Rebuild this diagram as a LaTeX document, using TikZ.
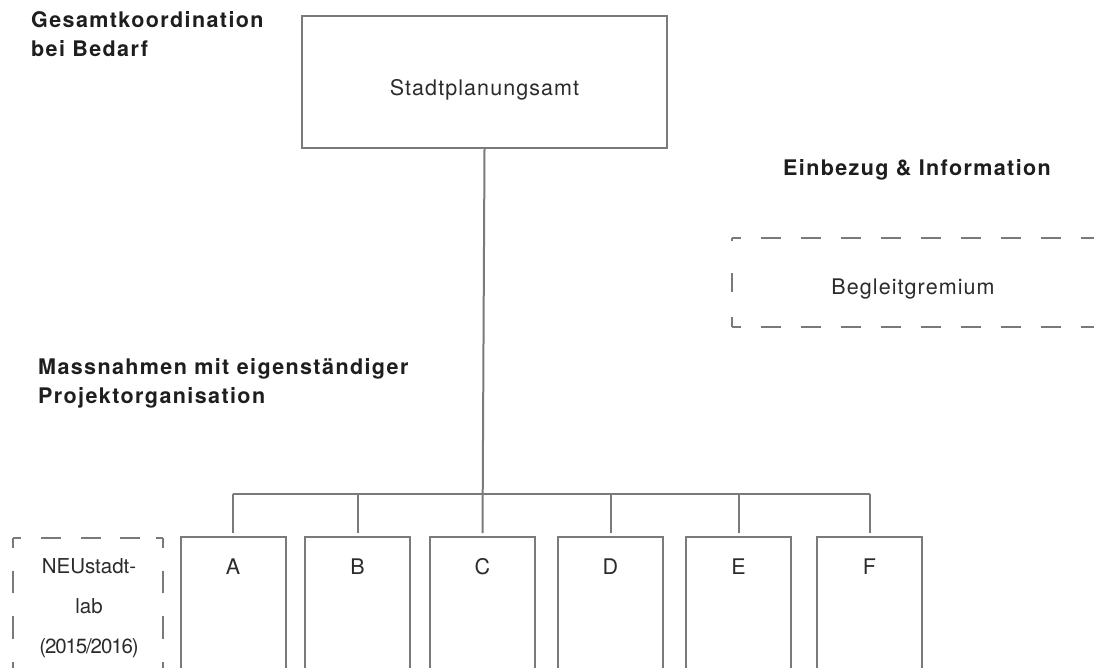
\documentclass[tikz,border=0pt]{standalone}
\usepackage{fontspec}
\setmainfont{TeX Gyre Heros}
\newfontfamily\lightfont[LetterSpace=5]{TeX Gyre Heros}
\newfontfamily\headfont[LetterSpace=6.5]{TeX Gyre Heros}
\newfontfamily\plainfont{TeX Gyre Heros}
\definecolor{linegray}{HTML}{7A7A7A}
\definecolor{textdark}{HTML}{2B2B2B}
\definecolor{headdark}{HTML}{1E1E1E}
\tikzset{
  conn/.style={draw=linegray, line width=2pt},
  solidbox/.style={rectangle, draw=linegray, line width=2pt, inner sep=0pt},
  lighttext/.style={font=\lightfont\fontsize{21.5}{29}\selectfont, text=textdark},
  headtext/.style={font=\headfont\bfseries\fontsize{21.5}{29}\selectfont, text=headdark, align=left, inner sep=0pt},
  dashside/.style={draw=linegray, line width=2pt},
}
\begin{document}
\begin{tikzpicture}[x=1pt,y=-1pt]
\clip (0,0) rectangle (1094,667);
\fill[white] (0,0) rectangle (1094,667);

% headings (anchor base = baseline of the last line)
\node[headtext, anchor=base west] (h1) at (31,56) {Gesamtkoordination\\bei Bedarf};
\node[headtext, anchor=base west] (h2) at (783,175) {Einbezug \& Information};
\node[headtext, anchor=base west] (h3) at (38,403) {Massnahmen mit eigenständiger\\Projektorganisation};

% top box
\node[solidbox, lighttext, anchor=base, minimum width=365pt, text height=79pt, text depth=53pt] (spa) at (484.5,95) {Stadtplanungsamt};

% Begleitgremium
\node[lighttext, anchor=base, inner sep=0pt, minimum width=362pt, text height=56pt, text depth=33pt] (beg) at (913,294) {Begleitgremium};
\draw[dashside, dash pattern=on 20pt off 20pt, dash phase=11pt] (beg.north west) -- (beg.north east);
\draw[dashside, dash pattern=on 20pt off 20pt, dash phase=11pt] (beg.south west) -- (beg.south east);
\draw[dashside, dash pattern=on 3pt off 32pt on 19pt off 25pt on 10pt off 100pt] (beg.north west) -- (beg.south west);

% NEUstadt-lab dashed box
\node[inner sep=0pt, minimum width=149.5pt, minimum height=150pt, anchor=north] (neu) at (88.25,538) {};
\node[font=\plainfont\fontsize{20.5}{40}\selectfont, text=textdark, align=center, anchor=base, inner sep=0pt] (neutext) at (89,653) {NEUstadt-\\lab\\{\addfontfeature{LetterSpace=-5.5}(2015/2016)}};
\draw[dashside, dash pattern=on 8pt off 20pt on 20pt off 20pt on 20pt off 18.5pt on 20pt off 16pt on 20pt] (neu.north west) -- (neu.north east);
\draw[dashside, dash pattern=on 10pt off 23pt on 22pt off 23pt on 23pt off 23pt on 30pt off 30pt] (neu.north west) -- (neu.south west);
\draw[dashside, dash pattern=on 10pt off 23pt on 22pt off 23pt on 23pt off 23pt on 30pt off 30pt] (neu.north east) -- (neu.south east);

% measure boxes
\foreach \n/\x in {A/233,B/357.5,C/482.5,D/610.5,E/738.5,F/869.5}{
  \node[solidbox, lighttext, anchor=base, minimum width=105pt, text height=37pt, text depth=130pt] (\n) at (\x,574) {\n};
}

% connectors
\coordinate (bus) at (484,494);
\draw[conn, shorten >=3pt] (spa.south) -- (C.north);
\draw[conn, shorten >=3pt] (A.north |- bus) -- (A.north);
\draw[conn] (A.north |- bus) -- (F.north |- bus);
\foreach \n in {B,D,E,F}{
  \draw[conn, shorten >=3pt] (\n.north |- bus) -- (\n.north);
}
\end{tikzpicture}
\end{document}
